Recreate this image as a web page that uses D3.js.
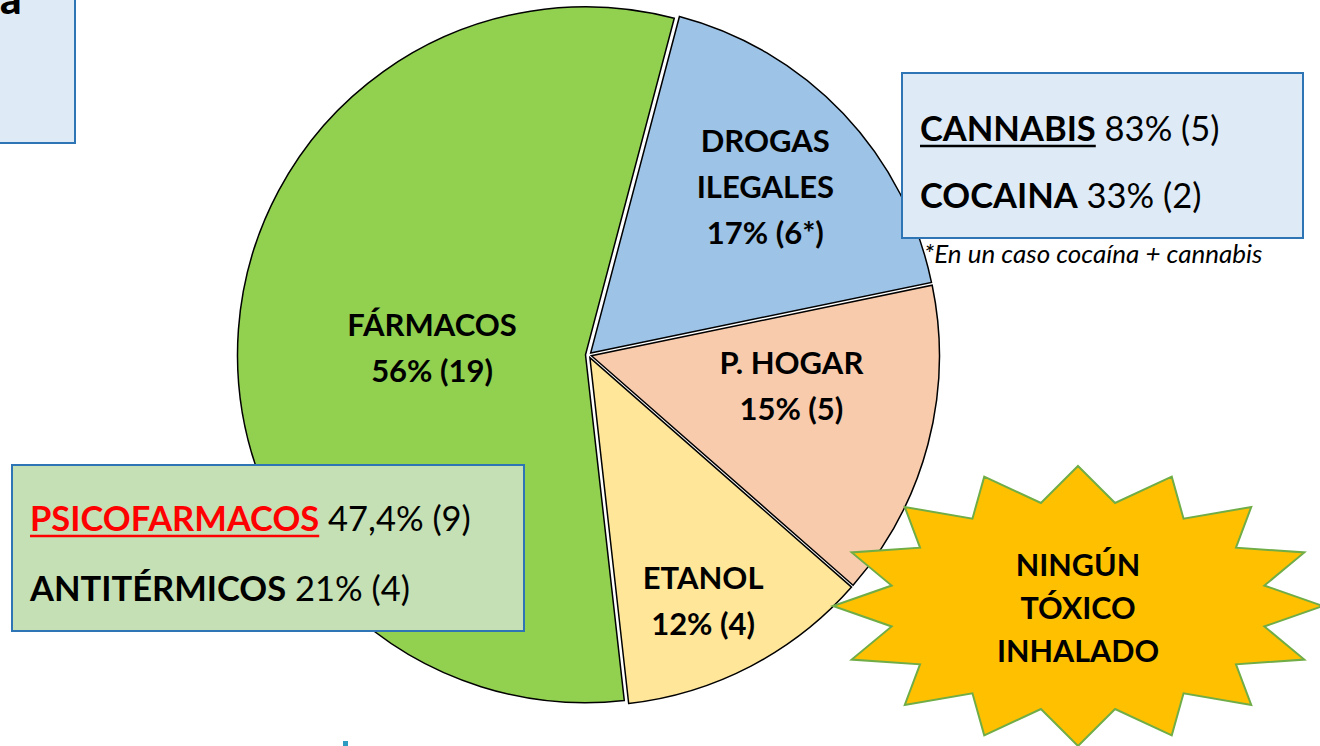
<!DOCTYPE html>
<html>
<head>
<meta charset="utf-8">
<script src="https://cdn.jsdelivr.net/npm/d3@7"></script>
<style>
body{margin:0;background:#fff;overflow:hidden}
svg{display:block}
text{font-family:Lato,"Open Sans",sans-serif;fill:#000}
</style>
</head>
<body>
<div id="chart"></div>
<script>
// Data
const categories = ["FÁRMACOS", "DROGAS ILEGALES", "P. HOGAR", "ETANOL"]
const counts = [19, 6, 5, 4]
const pctLabels = ["56% (19)", "17% (6*)", "15% (5)", "12% (4)"]
const labelLines = [["FÁRMACOS"], ["DROGAS", "ILEGALES"], ["P. HOGAR"], ["ETANOL"]]
const colors = ["#92D050", "#9DC3E6", "#F8CBAD", "#FFE699"]
const drugLines = [["CANNABIS", "83% (5)"], ["COCAINA", "33% (2)"]]
const farmLines = [["PSICOFARMACOS", "47,4% (9)"], ["ANTITÉRMICOS", "21% (4)"]]
const burstLines = ["NINGÚN", "TÓXICO", "INHALADO"]
const footnote = "*En un caso cocaína + cannabis"

// layout
const width = 1320, height = 746
const cx = 588.5, cy = 355, R = 348
const explode = 3
const deg = Math.PI / 180
const startDeg = -186.4
const labelR = [0.45, 0.70, 0.59, 0.78]
const labelShift = [-1.6, 0, -6, 2.6]

const svg = d3.select("#chart").append("svg")
    .attr("width", width)
    .attr("height", height)

// top-left cut box
svg.append("rect")
    .attr("x", -10).attr("y", -10)
    .attr("width", 85).attr("height", 153)
    .attr("fill", "#DEEBF7").attr("stroke", "#2E75B6").attr("stroke-width", 2)
svg.append("text")
    .attr("x", 0).attr("y", 14)
    .attr("font-size", 42).attr("font-weight", 900)
    .text("a")

// pie
const pie = d3.pie().sort(null)
    .startAngle(startDeg * deg)
    .endAngle(startDeg * deg + 2 * Math.PI)
const arc = d3.arc().innerRadius(0).outerRadius(R)
const arcs = pie(counts)

const g = svg.append("g").attr("transform", `translate(${cx},${cy})`)

g.selectAll("path.slice")
    .data(arcs)
    .join("path")
    .attr("class", "slice")
    .attr("transform", d => {
        let a = (d.startAngle + d.endAngle) / 2
        return `translate(${Math.sin(a) * explode},${-Math.cos(a) * explode})`
    })
    .attr("fill", (d, i) => colors[i])
    .attr("stroke", "#000")
    .attr("stroke-width", 1.5)
    .attr("stroke-linejoin", "miter")
    .attr("d", arc)

const lineH = 46
arcs.forEach((d, i) => {
    let a = (d.startAngle + d.endAngle) / 2 + labelShift[i] * deg
    let r = R * labelR[i]
    let lx = Math.sin(a) * r, ly = -Math.cos(a) * r
    let lines = labelLines[i].concat([pctLabels[i]])
    let y0 = ly - (lines.length - 1) * lineH / 2
    lines.forEach((t, j) => {
        g.append("text")
            .attr("x", lx).attr("y", y0 + j * lineH + 11)
            .attr("text-anchor", "middle")
            .attr("font-size", 31).attr("font-weight", 700)
            .text(t)
    })
})

// drogas box
svg.append("rect")
    .attr("x", 902).attr("y", 73)
    .attr("width", 401).attr("height", 165)
    .attr("fill", "#DEEBF7").attr("stroke", "#2E75B6").attr("stroke-width", 2)

function boxLine(x, y, parts, size, color, underline) {
    let t = svg.append("text").attr("x", x).attr("y", y).attr("font-size", size)
    let b = t.append("tspan").attr("font-weight", 700).style("fill", color).text(parts[0])
    t.append("tspan").attr("font-weight", 400).text(parts[1])
    if (underline) {
        let w = b.node().getComputedTextLength()
        svg.append("line")
            .attr("x1", x).attr("x2", x + w)
            .attr("y1", y + 5).attr("y2", y + 5)
            .attr("stroke", color).attr("stroke-width", 2.4)
    }
}
boxLine(920, 141, [drugLines[0][0], " " + drugLines[0][1]], 34.5, "#000", true)
boxLine(920, 208, [drugLines[1][0], " " + drugLines[1][1]], 34.5, "#000", false)

svg.append("text")
    .attr("x", 924).attr("y", 263)
    .attr("font-size", 26).attr("font-style", "italic")
    .text(footnote)

// farmacos box
svg.append("rect")
    .attr("x", 12).attr("y", 465)
    .attr("width", 512).attr("height", 166)
    .attr("fill", "#C5E0B4").attr("stroke", "#2E75B6").attr("stroke-width", 2)
boxLine(30, 531, [farmLines[0][0], "  " + farmLines[0][1]], 34.5, "#FF0000", true)
boxLine(30, 601, [farmLines[1][0], "  " + farmLines[1][1]], 34.5, "#000", false)

// starburst
const bx = 1078, by = 606
const nPts = 16
const pts = d3.range(nPts * 2).map(k => {
    let a = k * Math.PI / nPts
    let outer = k % 2 === 0
    let rx = outer ? 245 : 190, ry = outer ? 140 : 105
    return [bx + Math.sin(a) * rx, by - Math.cos(a) * ry]
})
svg.append("path")
    .attr("d", d3.line()(pts) + "Z")
    .attr("fill", "#FFC000")
    .attr("stroke", "#70AD47")
    .attr("stroke-width", 2)

burstLines.forEach((t, j) => {
    svg.append("text")
        .attr("x", bx).attr("y", 565 + j * 43 + 11)
        .attr("text-anchor", "middle")
        .attr("font-size", 30.5).attr("font-weight", 700)
        .text(t)
})

// small mark at bottom
svg.append("rect")
    .attr("x", 343).attr("y", 741)
    .attr("width", 5).attr("height", 5)
    .attr("fill", "#2E9BC0")
</script>
</body>
</html>
